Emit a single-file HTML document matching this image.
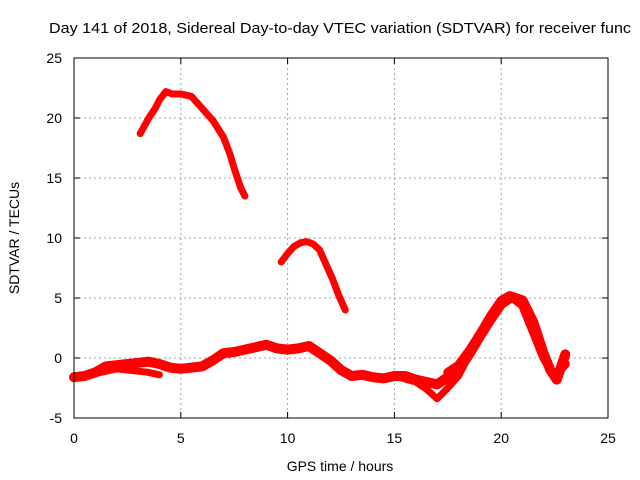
<!DOCTYPE html>
<html><head><meta charset="utf-8"><style>
body{margin:0;background:#fff;}
svg{display:block;font-family:"Liberation Sans",sans-serif;}
</style></head><body>
<svg id="chart" width="640" height="480">
<text x="49" y="33" font-size="15" textLength="582" lengthAdjust="spacingAndGlyphs">Day 141 of 2018, Sidereal Day-to-day VTEC variation (SDTVAR) for receiver func</text>
<g id="grid"></g><g id="series"></g><g id="axes"></g>
<text x="340" y="471" font-size="14" text-anchor="middle">GPS time / hours</text>
<text transform="translate(19,238) rotate(-90)" font-size="14" text-anchor="middle">SDTVAR / TECUs</text>
</svg>
<script>
const xTicks=[0,5,10,15,20,25];
const yTicks=[-5,0,5,10,15,20,25];
const arcA_x=[3.1,3.5,3.8,4,4.3,4.6,5,5.5,5.8,6,6.5,7,7.3,7.5,7.8,8];
const arcA_y=[18.7,20,20.8,21.5,22.2,22,22,21.8,21.2,20.8,19.8,18.4,17,15.8,14.2,13.5];
const arcB_x=[9.7,10,10.3,10.6,10.9,11.2,11.5,11.8,12.1,12.4,12.7];
const arcB_y=[8,8.7,9.3,9.6,9.7,9.5,9,7.8,6.6,5.2,4];
const main_x=[0,0.5,1,1.5,2,2.5,3,3.5,4,4.5,5,5.5,6,6.5,7,7.5,8,8.5,9,9.5,10,10.5,11,11.5,12,12.5,13,13.5,14,14.5,15,15.5,16,16.5,17,17.5,18,18.5,19,19.5,20,20.5,21,21.5,22,22.3,22.6,23];
const main_y=[-1.6,-1.5,-1.2,-0.7,-0.6,-0.5,-0.4,-0.3,-0.5,-0.8,-0.9,-0.8,-0.7,-0.2,0.4,0.5,0.7,0.9,1.1,0.8,0.7,0.8,1,0.4,-0.2,-1,-1.5,-1.4,-1.6,-1.7,-1.5,-1.5,-1.8,-2,-2.2,-1.6,-1,0.3,1.8,3.2,4.5,5.1,4.8,3,0.3,-1,-1.8,0.3];
const low1_x=[1,2,3,3.5,4];
const low1_y=[-1.3,-0.9,-1.1,-1.2,-1.4];
const low2_x=[15,16,16.5,17,17.5,18,18.5,18.9];
const low2_y=[-1.5,-2,-2.6,-3.4,-2.5,-1.5,0.2,1.9];
const upper_x=[17.5,18,18.5,19,19.5,20,20.4,21,21.5,22,22.5,23];
const upper_y=[-1.2,-0.6,0.6,2,3.5,4.8,5.2,4.4,2.2,0,-1.5,-0.5];
const X0=74,X1=608,Y0=418,Y1=58;
const sx=v=>X0+(v-0)/25*(X1-X0);
const sy=v=>Y0-(v+5)/30*(Y0-Y1);
const NS="http://www.w3.org/2000/svg";
function mk(t,a,p){const e=document.createElementNS(NS,t);for(const k in a)e.setAttribute(k,a[k]);p.appendChild(e);return e;}
const grid=document.getElementById('grid'),axes=document.getElementById('axes'),ser=document.getElementById('series');
xTicks.forEach(t=>{
 if(t>0&&t<25){const g=mk('line',{x1:sx(t),x2:sx(t),y1:Y1,y2:Y0,stroke:'#a0a0a0','stroke-dasharray':'2,3'},grid);
 
 }
 mk('line',{x1:sx(t),x2:sx(t),y1:Y0,y2:Y0-6,stroke:'#000'},axes);
 mk('line',{x1:sx(t),x2:sx(t),y1:Y1,y2:Y1+6,stroke:'#000'},axes);
 const l=mk('text',{x:sx(t),y:Y0+25,'font-size':14,'text-anchor':'middle'},axes);l.textContent=t;
 
 
});
yTicks.forEach(t=>{
 if(t>-5&&t<25){const g=mk('line',{x1:X0,x2:X1,y1:sy(t),y2:sy(t),stroke:'#a0a0a0','stroke-dasharray':'2,3'},grid);
 
 }
 mk('line',{x1:X0,x2:X0+6,y1:sy(t),y2:sy(t),stroke:'#000'},axes);
 mk('line',{x1:X1,x2:X1-6,y1:sy(t),y2:sy(t),stroke:'#000'},axes);
 const l=mk('text',{x:X0-12,y:sy(t)+5,'font-size':14,'text-anchor':'end'},axes);l.textContent=t;
 
 
});
const fr=mk('rect',{x:X0,y:Y1,width:X1-X0,height:Y0-Y1,fill:'none',stroke:'#000'},axes);


[[arcA_x,arcA_y,'arc-morning',7],[arcB_x,arcB_y,'arc-midday',7],[main_x,main_y,'main-band',10],[low1_x,low1_y,'low-band-early',7],[low2_x,low2_y,'low-band-late',7],[upper_x,upper_y,'evening-band',9]].forEach(([xs,ys,n,w])=>{
 const p=mk('polyline',{points:xs.map((x,i)=>sx(x)+','+sy(ys[i])).join(' '),fill:'none',stroke:'#ff0000','stroke-width':w,'stroke-linejoin':'round','stroke-linecap':'round'},ser);
 
 
});
</script>
</body></html>
